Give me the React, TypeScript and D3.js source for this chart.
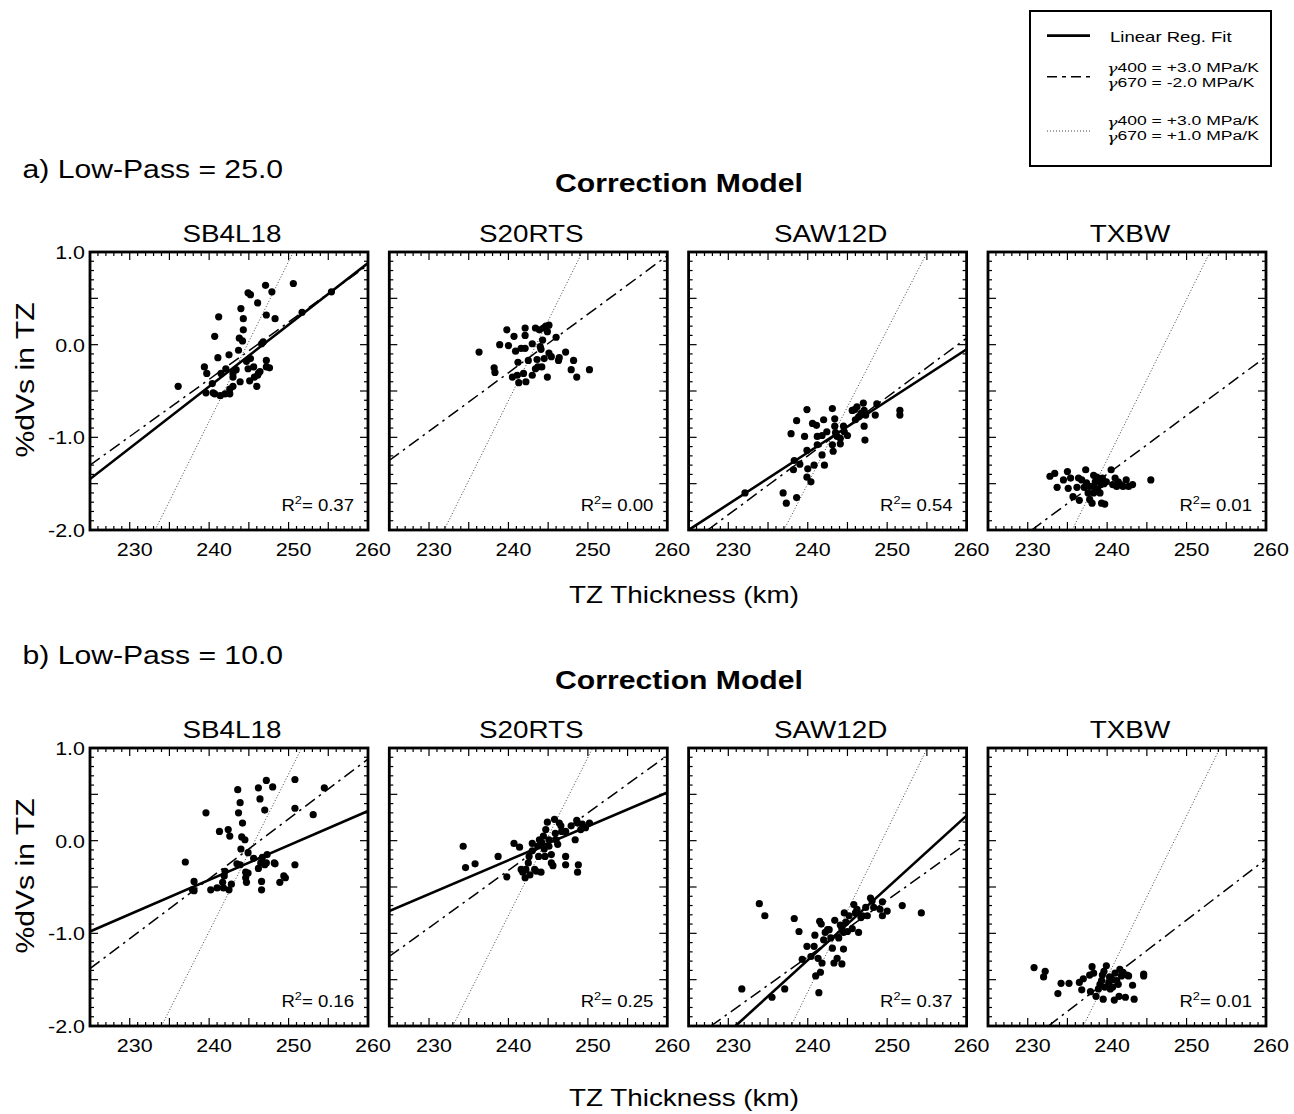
import React from "react";
import * as d3 from "d3";

// ---------- data ----------
const models = ["SB4L18", "S20RTS", "SAW12D", "TXBW"];
const rowLabels = ["a) Low-Pass = 25.0", "b) Low-Pass = 10.0"];
const xTickLabels = [230, 240, 250, 260];
const yTickLabels = [1.0, 0.0, -1.0, -2.0];
const rSquared25 = ["0.37", "0.00", "0.54", "0.01"];
const rSquared10 = ["0.16", "0.25", "0.37", "0.01"];

type P = [number, number];

const pts25_SB4L18: P[] = [[236.1,-0.45],[239.4,-0.24],[239.7,-0.31],[239.6,-0.52],[240.5,-0.52],[240.4,-0.42],[240.7,0.09],[241.2,0.30],[241.1,-0.14],[241.5,-0.31],[240.7,-0.53],[241.4,-0.55],[242.0,-0.53],[242.6,-0.53],[242.6,-0.48],[243.0,-0.45],[242.1,-0.26],[242.5,-0.11],[243.0,-0.31],[243.0,-0.35],[243.4,-0.27],[243.7,-0.06],[243.8,0.07],[243.9,-0.40],[244.0,0.39],[244.2,0.04],[244.3,0.16],[244.3,0.28],[244.7,-0.18],[244.9,-0.26],[245.1,-0.39],[244.9,0.56],[245.2,0.54],[245.2,-0.15],[245.6,-0.24],[245.7,-0.35],[246.0,-0.45],[246.1,0.45],[246.1,-0.33],[246.2,-0.31],[246.4,-0.29],[246.6,0.01],[246.8,0.03],[247.1,0.64],[247.2,0.32],[247.2,-0.24],[247.2,-0.17],[247.6,-0.25],[247.9,0.57],[248.3,0.28],[250.6,0.66],[251.7,0.35],[255.4,0.57]];
const pts25_S20RTS: P[] = [[236.3,-0.08],[238.2,-0.25],[238.3,-0.30],[238.9,0.00],[239.8,0.16],[240.0,-0.01],[240.7,0.09],[240.9,-0.07],[240.5,-0.35],[241.1,-0.33],[241.2,-0.19],[241.3,-0.41],[241.6,-0.04],[241.9,-0.31],[242.1,-0.04],[242.1,0.18],[242.1,0.10],[242.2,-0.40],[242.5,-0.17],[243.0,0.01],[243.0,-0.33],[243.4,0.18],[243.4,-0.26],[243.6,-0.16],[243.7,-0.24],[243.9,0.16],[244.0,-0.02],[244.1,-0.05],[244.2,-0.24],[244.3,0.05],[244.4,0.18],[244.5,-0.15],[244.7,0.20],[244.9,0.14],[244.9,-0.35],[245.1,-0.09],[245.1,0.21],[245.4,-0.13],[246.0,0.08],[246.3,-0.17],[246.4,-0.14],[247.2,-0.08],[247.9,-0.27],[248.2,-0.17],[248.6,-0.35],[250.2,-0.27]];
const pts25_SAW12D: P[] = [[232.1,-1.60],[236.9,-1.60],[237.3,-1.71],[238.6,-1.65],[237.9,-0.96],[238.3,-1.25],[238.2,-1.35],[238.6,-0.82],[239.0,-1.29],[239.6,-0.99],[239.9,-0.70],[239.9,-1.14],[240.0,-1.34],[239.9,-1.43],[240.4,-1.48],[240.6,-0.85],[240.8,-1.30],[241.1,-0.87],[241.2,-0.99],[241.2,-1.08],[241.8,-0.98],[241.8,-1.19],[242.0,-0.81],[242.1,-1.30],[242.4,-0.94],[243.1,-0.69],[243.1,-1.08],[243.2,-1.15],[243.4,-0.80],[243.4,-0.88],[243.5,-0.95],[243.7,-0.99],[244.1,-1.01],[244.1,-1.07],[244.5,-0.88],[244.6,-0.94],[245.0,-0.98],[245.6,-0.71],[245.9,-0.70],[246.0,-0.81],[246.2,-0.67],[246.4,-0.78],[246.7,-0.74],[247.0,-0.63],[247.1,-0.71],[247.1,-0.88],[247.2,-1.03],[247.3,-0.76],[248.5,-0.76],[248.7,-0.64],[251.6,-0.71],[251.6,-0.76]];
const pts25_TXBW: P[] = [[232.8,-1.42],[233.4,-1.39],[233.7,-1.54],[234.5,-1.46],[235.0,-1.37],[235.1,-1.55],[235.4,-1.44],[235.7,-1.64],[236.2,-1.54],[236.4,-1.44],[236.5,-1.68],[236.8,-1.46],[237.1,-1.54],[237.3,-1.35],[237.4,-1.49],[237.6,-1.60],[237.8,-1.67],[238.1,-1.71],[238.3,-1.41],[238.3,-1.53],[238.5,-1.48],[238.7,-1.43],[238.8,-1.56],[239.0,-1.45],[239.2,-1.51],[239.3,-1.71],[239.4,-1.44],[239.6,-1.50],[239.7,-1.72],[239.9,-1.48],[240.5,-1.35],[240.7,-1.51],[241.0,-1.44],[241.2,-1.53],[241.4,-1.48],[241.7,-1.51],[242.0,-1.53],[242.4,-1.46],[242.7,-1.53],[243.2,-1.51],[245.5,-1.46],[237.8,-1.53],[238.3,-1.60],[239.1,-1.60]];

const pts10_SB4L18: P[] = [[237.0,-0.23],[237.9,-0.53],[238.1,-0.44],[238.1,-0.54],[239.6,0.30],[240.2,-0.53],[241.0,-0.51],[241.3,0.10],[241.7,-0.45],[241.8,-0.51],[241.9,-0.38],[242.0,-0.33],[242.4,0.12],[242.5,-0.53],[242.6,0.05],[242.8,-0.47],[243.5,-0.25],[243.6,0.55],[243.7,0.30],[243.9,0.41],[243.9,-0.26],[244.0,-0.09],[244.2,0.19],[244.1,0.04],[244.5,0.01],[244.6,-0.34],[244.6,-0.40],[244.7,-0.45],[244.9,-0.13],[244.9,-0.35],[245.6,-0.19],[246.2,0.57],[246.2,-0.30],[246.4,0.45],[246.5,-0.24],[246.6,-0.53],[246.6,-0.44],[246.7,-0.18],[247.0,0.33],[247.0,-0.26],[247.2,0.65],[247.2,-0.24],[247.3,-0.15],[248.0,0.58],[248.2,-0.24],[248.3,-0.25],[248.9,-0.45],[249.4,-0.38],[249.6,-0.40],[250.8,0.66],[250.8,0.35],[250.8,-0.26],[253.1,0.28],[254.5,0.57]];
const pts10_S20RTS: P[] = [[234.3,-0.06],[234.6,-0.29],[235.8,-0.25],[238.7,-0.17],[239.8,-0.39],[240.7,-0.03],[241.4,-0.07],[241.6,-0.31],[241.8,-0.34],[242.1,-0.40],[242.2,-0.31],[242.5,-0.24],[242.6,-0.17],[242.7,-0.37],[243.0,-0.11],[243.0,-0.03],[243.3,-0.31],[243.5,-0.33],[243.7,-0.06],[243.8,-0.17],[243.9,0.01],[244.1,-0.34],[244.2,-0.02],[244.4,0.05],[244.5,-0.09],[244.6,-0.17],[244.7,0.12],[244.9,0.20],[245.1,0.01],[245.1,-0.06],[245.4,-0.24],[245.4,-0.15],[245.6,-0.27],[245.8,0.23],[245.9,0.08],[246.0,0.01],[246.2,-0.04],[246.4,0.19],[246.6,0.16],[246.7,0.10],[247.2,-0.17],[247.2,-0.26],[247.2,0.10],[247.9,0.16],[248.4,0.01],[248.6,0.22],[248.7,0.19],[248.8,-0.26],[248.7,-0.34],[249.1,0.12],[249.3,0.18],[249.7,0.14],[250.2,0.19]];
const pts10_SAW12D: P[] = [[231.7,-1.60],[233.9,-0.68],[234.6,-0.81],[235.5,-1.69],[237.1,-1.60],[238.3,-0.84],[238.9,-0.98],[239.3,-1.28],[239.9,-1.14],[240.4,-1.25],[240.8,-1.14],[240.9,-1.02],[241.0,-1.46],[241.3,-1.27],[241.4,-1.64],[241.5,-0.87],[241.6,-1.42],[241.7,-0.90],[241.8,-1.32],[242.0,-1.07],[242.2,-0.99],[242.5,-0.96],[242.7,-0.96],[242.9,-1.05],[243.1,-1.16],[243.3,-1.32],[243.4,-0.86],[243.7,-1.27],[243.9,-1.05],[244.1,-0.91],[244.3,-1.33],[244.3,-0.95],[244.5,-0.99],[244.5,-1.17],[244.6,-0.78],[244.8,-0.88],[245.0,-0.98],[245.2,-0.81],[245.6,-0.95],[245.8,-0.69],[246.0,-0.78],[246.2,-0.74],[246.4,-0.99],[246.7,-0.83],[246.9,-0.81],[247.3,-0.72],[247.5,-0.81],[247.9,-0.62],[248.1,-0.65],[248.3,-0.72],[249.1,-0.74],[249.4,-0.66],[249.4,-0.81],[250.0,-0.76],[251.9,-0.70],[254.3,-0.78]];
const pts10_TXBW: P[] = [[230.8,-1.37],[232.0,-1.47],[232.2,-1.41],[233.8,-1.65],[234.2,-1.54],[235.2,-1.54],[236.5,-1.53],[236.8,-1.61],[237.0,-1.49],[237.8,-1.45],[237.9,-1.63],[238.1,-1.36],[238.3,-1.43],[238.6,-1.68],[238.9,-1.60],[239.1,-1.55],[239.3,-1.51],[239.4,-1.45],[239.5,-1.71],[239.6,-1.41],[239.7,-1.58],[239.9,-1.35],[240.2,-1.53],[240.3,-1.47],[240.4,-1.60],[240.6,-1.50],[240.7,-1.58],[240.9,-1.72],[241.0,-1.43],[241.2,-1.51],[241.4,-1.55],[241.5,-1.68],[241.6,-1.39],[241.8,-1.46],[242.0,-1.42],[242.3,-1.69],[242.5,-1.45],[242.7,-1.46],[243.2,-1.56],[243.4,-1.71],[244.6,-1.46],[244.6,-1.44]];

// line endpoints [x1, y1, x2, y2] in data units
type L = [number, number, number, number] | null;
const fit25: L[] = [[225,-1.45,260,0.88], null, [225,-2.0,260,-0.05], null];
const dash25: L[] = [[225,-1.30,260,0.86],[225,-1.25,260,0.96],[227.4,-2.0,260,0.07],[230.5,-2.0,260,-0.13]];
const dot25: L[] = [[233.2,-2,250.6,1],[231.9,-2,249.3,1],[237.0,-2,255.05,1],[235.6,-2,252.95,1]];
const fit10: L[] = [[225,-0.98,260,0.32],[225,-0.76,260,0.52],[230.9,-2.0,260,0.27], null];
const dash10: L[] = [[225,-1.38,260,0.88],[225,-1.25,260,0.92],[227.8,-2,260,-0.03],[232.6,-2,260,-0.2]];
const dot10: L[] = [[234.0,-2,251.65,1],[233.0,-2,250.6,1],[237.9,-2,255.05,1],[237.0,-2,254.2,1]];

const points25 = [pts25_SB4L18, pts25_S20RTS, pts25_SAW12D, pts25_TXBW];
const points10 = [pts10_SB4L18, pts10_S20RTS, pts10_SAW12D, pts10_TXBW];

const legendLabels = [
  ["Linear Reg. Fit"],
  ["400 = +3.0 MPa/K", "670 = -2.0 MPa/K"],
  ["400 = +3.0 MPa/K", "670 = +1.0 MPa/K"],
];
const GAMMA = "\u03b3";

// ---------- style / layout ----------
const W = 1294, H = 1114;
const FONT = "'Liberation Sans', Arial, Helvetica, sans-serif";
const SX = 1.16;
const PW = 278, PH = 278;
const LEFTS = [90, 389.3, 688.6, 988];
const TOPS = [252, 748];
const DASH = "12,5,2.5,5";
const DOT = "1,2";

function T(props: any) {
  const { x, y, size, anchor = "start", weight = "normal", rotate, sx = SX, children } = props;
  const tr = `translate(${x},${y})` + (rotate ? ` rotate(${rotate})` : "") + ` scale(${sx},1)`;
  return (
    <text transform={tr} fontSize={size} textAnchor={anchor} fontWeight={weight} fontFamily={FONT} fill="#000">
      {children}
    </text>
  );
}

function Panel(props: any) {
  const { left, top, pts, fit, dash, dot, r2, showY, id } = props;
  const x = d3.scaleLinear().domain([225, 260]).range([left, left + PW]);
  const y = d3.scaleLinear().domain([-2, 1]).range([top + PH, top]);
  const line = d3.line<[number, number]>().x((d) => x(d[0])).y((d) => y(d[1]));
  const seg = (l: L) => (l ? line([[l[0], l[1]], [l[2], l[3]]]) || "" : "");
  const xt = d3.range(0, 36).map((i) => 225 + i);
  const yt = d3.range(0, 31).map((i) => -2 + i * 0.1);
  const MAJ = 8, MIN = 4;
  return (
    <g>
      <defs>
        <clipPath id={id}>
          <rect x={left} y={top} width={PW} height={PH} />
        </clipPath>
      </defs>
      <g clipPath={`url(#${id})`}>
        {dot && <path d={seg(dot)} stroke="#444" strokeWidth={1} strokeDasharray={DOT} fill="none" />}
        {dash && <path d={seg(dash)} stroke="#000" strokeWidth={1.5} strokeDasharray={DASH} fill="none" />}
        {fit && <path d={seg(fit)} stroke="#000" strokeWidth={2.6} fill="none" />}
      </g>
      {pts.map((p: P, i: number) => (
        <circle key={i} cx={x(p[0])} cy={y(p[1])} r={3.6} fill="#000" />
      ))}
      {xt.map((v, i) => {
        const len = i % 5 === 0 ? MAJ : MIN;
        const px = x(v);
        return (
          <g key={"x" + i}>
            <line x1={px} x2={px} y1={top + PH} y2={top + PH - len} stroke="#000" strokeWidth={1.2} />
            <line x1={px} x2={px} y1={top} y2={top + len} stroke="#000" strokeWidth={1.2} />
          </g>
        );
      })}
      {yt.map((v, i) => {
        const len = i % 5 === 0 ? MAJ : MIN;
        const py = y(v);
        return (
          <g key={"y" + i}>
            <line x1={left} x2={left + len} y1={py} y2={py} stroke="#000" strokeWidth={1.2} />
            <line x1={left + PW} x2={left + PW - len} y1={py} y2={py} stroke="#000" strokeWidth={1.2} />
          </g>
        );
      })}
      <rect x={left} y={top} width={PW} height={PH} fill="none" stroke="#000" strokeWidth={2.8} />
      {xTickLabels.map((v) => (
        <T key={"xl" + v} x={x(v) + 5} y={top + PH + 26} size={18.5} anchor="middle">
          {String(v)}
        </T>
      ))}
      {showY &&
        yTickLabels.map((v) => (
          <T key={"yl" + v} x={left - 5} y={y(v) + 7} size={18.5} anchor="end">
            {v.toFixed(1)}
          </T>
        ))}
      <T x={left + PW - 14} y={top + PH - 19} size={16} anchor="end">
        <tspan>R</tspan>
        <tspan fontSize={11} dy={-7}>2</tspan>
        <tspan dy={7}>{"= " + r2}</tspan>
      </T>
    </g>
  );
}

function Gam(props: any) {
  const { x, y, text } = props;
  return (
    <T x={x} y={y} size={13.5} sx={1.3}>
      <tspan fontFamily="'DejaVu Serif', serif" fontStyle="italic" dy={1.5}>{GAMMA}</tspan>
      <tspan dy={-1.5}>{text}</tspan>
    </T>
  );
}

export default function App() {
  const rows = [
    { pts: points25, fit: fit25, dash: dash25, dot: dot25, r2: rSquared25 },
    { pts: points10, fit: fit10, dash: dash10, dot: dot10, r2: rSquared10 },
  ];
  const rowLabelY = [177.7, 664];
  const corrY = [192, 689];
  const xTitleY = [603, 1106];
  const lg = { x: 1030, y: 11, w: 241, h: 155 };
  return (
    <svg width={W} height={H} style={{ position: "absolute", left: 0, top: 0, background: "#fff" }}>
      <rect x={0} y={0} width={W} height={H} fill="#fff" />
      {rows.map((row, r) => {
        const top = TOPS[r];
        return (
          <g key={r}>
            <T x={22.5} y={rowLabelY[r]} size={26}>{rowLabels[r]}</T>
            <T x={679} y={corrY[r]} size={26} weight="bold" anchor="middle">Correction Model</T>
            {models.map((m, c) => (
              <g key={m}>
                <T x={LEFTS[c] + PW / 2 + 3} y={top - 10.3} size={24} anchor="middle">{m}</T>
                <Panel
                  id={`clip${r}${c}`}
                  left={LEFTS[c]}
                  top={top}
                  pts={row.pts[c]}
                  fit={row.fit[c]}
                  dash={row.dash[c]}
                  dot={row.dot[c]}
                  r2={row.r2[c]}
                  showY={c === 0}
                />
              </g>
            ))}
            <T x={34} y={top + PH / 2 - 11} size={26} anchor="middle" rotate={-90}>%dVs in TZ</T>
            <T x={684} y={xTitleY[r]} size={24} anchor="middle">TZ Thickness (km)</T>
          </g>
        );
      })}
      <rect x={lg.x} y={lg.y} width={lg.w} height={lg.h} fill="#fff" stroke="#000" strokeWidth={2} />
      <line x1={1047} x2={1090} y1={35.7} y2={35.7} stroke="#000" strokeWidth={2.8} />
      <T x={1110} y={41.7} size={14.5} sx={1.28}>{legendLabels[0][0]}</T>
      <line x1={1047} x2={1090} y1={76.7} y2={76.7} stroke="#000" strokeWidth={1.5} strokeDasharray="10,5,4,5" />
      <Gam x={1107} y={71.7} text={legendLabels[1][0]} />
      <Gam x={1107} y={86.7} text={legendLabels[1][1]} />
      <line x1={1047} x2={1090} y1={131} y2={131} stroke="#444" strokeWidth={1} strokeDasharray={DOT} />
      <Gam x={1107} y={125} text={legendLabels[2][0]} />
      <Gam x={1107} y={140} text={legendLabels[2][1]} />
    </svg>
  );
}
